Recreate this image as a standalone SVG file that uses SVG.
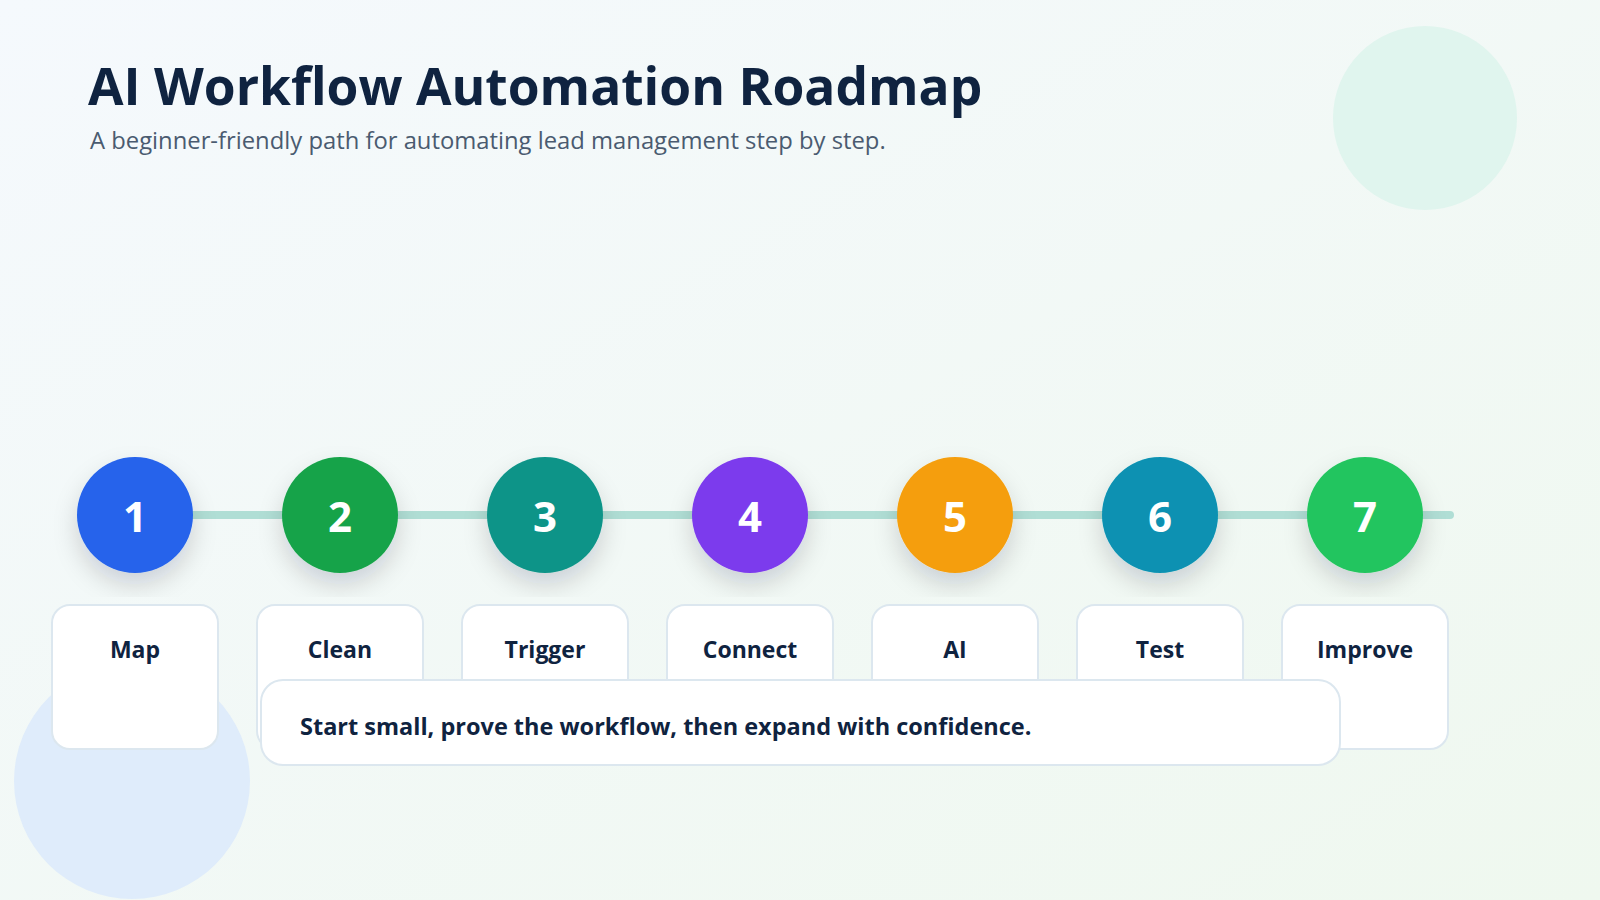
<svg xmlns="http://www.w3.org/2000/svg" width="1600" height="900" viewBox="0 0 1600 900">
  <defs>
    <linearGradient id="bg" x1="0" y1="0" x2="1" y2="1">
      <stop offset="0" stop-color="#f5f9fd"/>
      <stop offset="1" stop-color="#eff8ef"/>
    </linearGradient>
    <filter id="sh" x="-20%" y="-20%" width="140%" height="140%">
      <feDropShadow dx="0" dy="12" stdDeviation="12" flood-color="#0f172a" flood-opacity="0.16"/>
    </filter>
    <style>
      .title{font-family:"Open Sans","Noto Sans",sans-serif;font-weight:700;font-size:51.5px;fill:#0f2340}
      .sub{font-family:"Open Sans","Noto Sans",sans-serif;font-size:23.8px;fill:#4a5b70}
      .num{font-family:"Open Sans","Noto Sans",sans-serif;font-weight:700;font-size:42px;fill:#ffffff;text-anchor:middle}
      .lbl{font-family:"Open Sans","Noto Sans",sans-serif;font-weight:700;font-size:23px;fill:#0f2340;text-anchor:middle}
      .card{fill:#ffffff;stroke:#dce7ef;stroke-width:2}
      .band{font-family:"Open Sans","Noto Sans",sans-serif;font-weight:700;font-size:23.5px;fill:#0f2340}
    </style>
  </defs>
  <rect width="1600" height="900" fill="url(#bg)"/>
  <circle cx="1425" cy="118" r="92" fill="#e0f5ee"/>
  <circle cx="132" cy="781" r="118" fill="#dfecfb"/>

  <text class="title" x="88" y="105">AI Workflow Automation Roadmap</text>
  <text class="sub" x="90" y="149">A beginner-friendly path for automating lead management step by step.</text>

  <g id="connectors">
    <line x1="135" y1="515" x2="1450" y2="515" stroke="#b0ded5" stroke-width="8" stroke-linecap="round"/>
  </g>

  <g id="step1">
    <circle cx="135" cy="515" r="58" fill="#2563eb" filter="url(#sh)"/>
    <text class="num" x="135" y="532">1</text>
    <rect class="card" x="52" y="605" width="166" height="144" rx="18"/>
    <text class="lbl" x="135" y="658">Map</text>
  </g>
  <g id="step2">
    <circle cx="340" cy="515" r="58" fill="#16a34a" filter="url(#sh)"/>
    <text class="num" x="340" y="532">2</text>
    <rect class="card" x="257" y="605" width="166" height="144" rx="18"/>
    <text class="lbl" x="340" y="658">Clean</text>
  </g>
  <g id="step3">
    <circle cx="545" cy="515" r="58" fill="#0d9488" filter="url(#sh)"/>
    <text class="num" x="545" y="532">3</text>
    <rect class="card" x="462" y="605" width="166" height="144" rx="18"/>
    <text class="lbl" x="545" y="658">Trigger</text>
  </g>
  <g id="step4">
    <circle cx="750" cy="515" r="58" fill="#7c3aed" filter="url(#sh)"/>
    <text class="num" x="750" y="532">4</text>
    <rect class="card" x="667" y="605" width="166" height="144" rx="18"/>
    <text class="lbl" x="750" y="658">Connect</text>
  </g>
  <g id="step5">
    <circle cx="955" cy="515" r="58" fill="#f59e0b" filter="url(#sh)"/>
    <text class="num" x="955" y="532">5</text>
    <rect class="card" x="872" y="605" width="166" height="144" rx="18"/>
    <text class="lbl" x="955" y="658">AI</text>
  </g>
  <g id="step6">
    <circle cx="1160" cy="515" r="58" fill="#0891b2" filter="url(#sh)"/>
    <text class="num" x="1160" y="532">6</text>
    <rect class="card" x="1077" y="605" width="166" height="144" rx="18"/>
    <text class="lbl" x="1160" y="658">Test</text>
  </g>
  <g id="step7">
    <circle cx="1365" cy="515" r="58" fill="#22c55e" filter="url(#sh)"/>
    <text class="num" x="1365" y="532">7</text>
    <rect class="card" x="1282" y="605" width="166" height="144" rx="18"/>
    <text class="lbl" x="1365" y="658">Improve</text>
  </g>

  <g id="banner">
    <rect class="card" x="261" y="680" width="1079" height="85" rx="22"/>
    <text class="band" x="300" y="735">Start small, prove the workflow, then expand with confidence.</text>
  </g>
</svg>
